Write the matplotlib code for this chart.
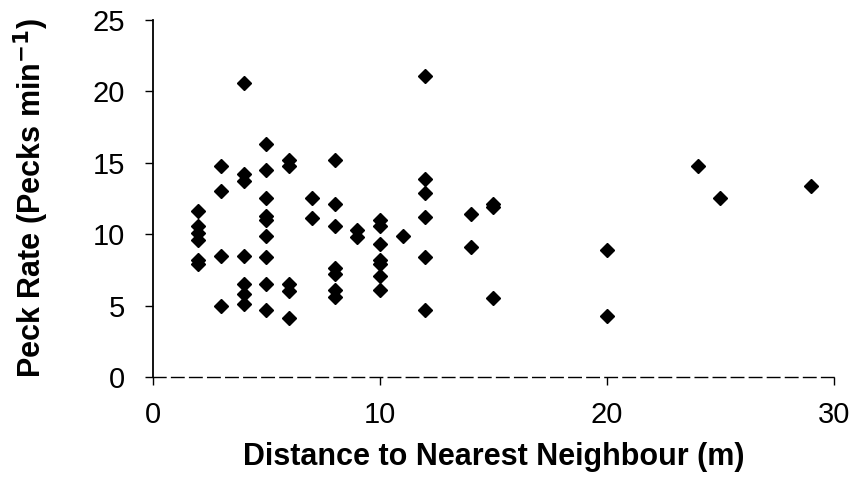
import matplotlib
matplotlib.use('Agg')
from matplotlib import pyplot as plt

# Nearest-neighbour distance (m) and peck rate (pecks per minute)
distance = [2, 2, 2, 2, 2, 2,
            3, 3, 3, 3,
            4, 4, 4, 4, 4, 4, 4,
            5, 5, 5, 5, 5, 5, 5, 5, 5,
            6, 6, 6, 6, 6,
            7, 7,
            8, 8, 8, 8, 8, 8, 8,
            9, 9,
            10, 10, 10, 10, 10, 10, 10,
            11,
            12, 12, 12, 12, 12, 12,
            14, 14,
            15, 15, 15,
            20, 20,
            24, 25, 29]
peck_rate = [11.6, 10.6, 10.1, 9.6, 8.2, 7.9,
             14.8, 13.0, 8.5, 5.0,
             20.6, 14.2, 13.7, 8.5, 6.5, 5.8, 5.1,
             16.3, 14.5, 12.5, 11.3, 11.0, 9.9, 8.4, 6.5, 4.7,
             15.2, 14.8, 6.5, 6.0, 4.1,
             12.5, 11.1,
             15.2, 12.1, 10.6, 7.6, 7.2, 6.1, 5.6,
             10.3, 9.8,
             11.0, 10.6, 9.3, 8.2, 7.9, 7.1, 6.1,
             9.9,
             21.1, 13.9, 12.9, 11.2, 8.4, 4.7,
             11.4, 9.1,
             12.1, 11.9, 5.5,
             8.9, 4.3,
             14.8, 12.5, 13.4]

plt.rcParams['font.family'] = ['Liberation Sans', 'DejaVu Sans']

fig = plt.figure(figsize=(8.56, 4.88), dpi=100)
ax = fig.add_axes([0.1787, 0.2275, 0.7956, 0.7315])

ax.plot(distance, peck_rate, linestyle='none', marker='D',
        markersize=7.5, color='black', clip_on=False)

ax.set_xlim(0, 30)
ax.set_ylim(0, 25)
ax.set_xticks([0, 10, 20, 30])
ax.set_yticks([0, 5, 10, 15, 20, 25])

ax.spines['top'].set_visible(False)
ax.spines['right'].set_visible(False)
ax.spines['left'].set_linewidth(1.3)
ax.spines['bottom'].set_linewidth(1.0)
ax.spines['bottom'].set_linestyle((0, (9, 4)))

ax.tick_params(axis='both', direction='out', length=6, width=1,
               labelsize=21, colors='black')
ax.tick_params(axis='x', pad=11)
ax.tick_params(axis='y', pad=14)

ax.set_xlabel('Distance to Nearest Neighbour (m)', fontsize=22,
              fontweight='bold', labelpad=10)
ax.set_ylabel('Peck Rate (Pecks min$^{\\mathbf{-1}}$)', fontsize=22,
              fontweight='bold', labelpad=30)

fig.savefig('out.png', dpi=100)
